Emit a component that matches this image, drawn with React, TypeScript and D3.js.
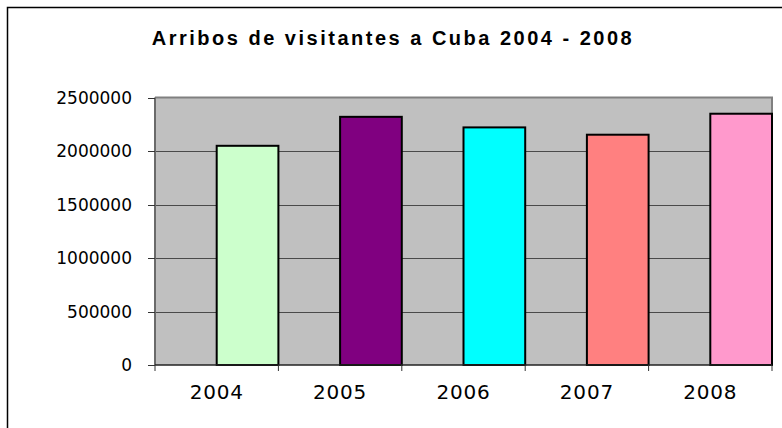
import { useEffect, useRef } from "react"
import * as d3 from "d3"

const years = ["2004", "2005", "2006", "2007", "2008"]
const arrivals = [2048572, 2319334, 2220567, 2152221, 2348340]
const barColors = ["#CCFFCC", "#800080", "#00FFFF", "#FF8080", "#FF99CC"]
const yTicks = [0, 500000, 1000000, 1500000, 2000000, 2500000]

export default function App() {
  const ref = useRef<SVGSVGElement>(null)

  useEffect(() => {
    const svg = d3.select(ref.current)
    svg.selectAll("*").remove()

    const W = 782, H = 428
    const left = 155, right = 772, top = 97.5, bottom = 365

    // outer chart border (runs off the right and bottom of the picture)
    svg.append("rect")
      .attr("x", 7.5).attr("y", 7.5)
      .attr("width", W).attr("height", H)
      .attr("fill", "#fff")
      .attr("stroke", "#000")
      .attr("stroke-width", 1.5)

    svg.append("text")
      .attr("x", 393).attr("y", 45)
      .attr("text-anchor", "middle")
      .style("font-family", "'Liberation Sans', Arial, sans-serif")
      .style("font-weight", "bold")
      .style("font-size", "20px")
      .style("letter-spacing", "2.5px")
      .attr("fill", "#000")
      .text("Arribos de visitantes a Cuba 2004 - 2008")

    const x = d3.scaleBand().domain(years).range([left, right]).padding(0)
    const y = d3.scaleLinear().domain([0, 2500000]).range([bottom, top])

    // plot area
    svg.append("rect")
      .attr("x", left).attr("y", top)
      .attr("width", right - left).attr("height", bottom - top)
      .attr("fill", "#C0C0C0")

    // gridlines
    svg.append("g")
      .selectAll("line")
      .data(yTicks.filter(d => d > 0 && d < 2500000))
      .join("line")
      .attr("x1", left).attr("x2", right)
      .attr("y1", d => Math.round(y(d)) + 0.5).attr("y2", d => Math.round(y(d)) + 0.5)
      .attr("stroke", "#4a4a4a")
      .attr("stroke-width", 1)

    // plot border top/right
    svg.append("path")
      .attr("d", `M${left},${top}H${right}V${bottom}`)
      .attr("fill", "none")
      .attr("stroke", "#808080")
      .attr("stroke-width", 2)

    // bars sit in the right half of each category
    svg.append("g")
      .selectAll("rect")
      .data(years)
      .join("rect")
      .attr("x", d => x(d)! + x.bandwidth() / 2)
      .attr("y", (d, i) => y(arrivals[i]))
      .attr("width", x.bandwidth() / 2)
      .attr("height", (d, i) => bottom - y(arrivals[i]))
      .attr("fill", (d, i) => barColors[i])
      .attr("stroke", "#000")
      .attr("stroke-width", 2)

    // y axis
    svg.append("line")
      .attr("x1", left).attr("x2", left)
      .attr("y1", top).attr("y2", bottom)
      .attr("stroke", "#6a6a6a").attr("stroke-width", 2)
    svg.append("g")
      .selectAll("line")
      .data(yTicks)
      .join("line")
      .attr("x1", 148).attr("x2", left)
      .attr("y1", d => Math.round(y(d)) + 0.5).attr("y2", d => Math.round(y(d)) + 0.5)
      .attr("stroke", "#333").attr("stroke-width", 1)
    svg.append("g")
      .selectAll("text")
      .data(yTicks)
      .join("text")
      .attr("x", 132)
      .attr("y", d => y(d))
      .attr("dy", "0.36em")
      .attr("text-anchor", "end")
      .style("font-family", "'DejaVu Sans', sans-serif")
      .style("font-size", "17px")
      .attr("fill", "#000")
      .text(d => String(d))

    // x axis
    svg.append("line")
      .attr("x1", left).attr("x2", right)
      .attr("y1", bottom).attr("y2", bottom)
      .attr("stroke", "#222").attr("stroke-width", 1.5)
    const bounds = years.map(d => x(d)!).concat([right])
    svg.append("g")
      .selectAll("line")
      .data(bounds)
      .join("line")
      .attr("x1", d => d).attr("x2", d => d)
      .attr("y1", bottom).attr("y2", bottom + 6)
      .attr("stroke", "#333").attr("stroke-width", 1)
    svg.append("g")
      .selectAll("text")
      .data(years)
      .join("text")
      .attr("x", d => x(d)! + x.bandwidth() / 2)
      .attr("y", 399)
      .attr("text-anchor", "middle")
      .style("font-family", "'DejaVu Sans', sans-serif")
      .style("font-size", "20px")
      .style("letter-spacing", "0.8px")
      .attr("fill", "#000")
      .text(d => d)
  }, [])

  return (
    <svg
      ref={ref}
      width={782}
      height={428}
      style={{ position: "absolute", left: 0, top: 0, background: "#fff" }}
    />
  )
}
